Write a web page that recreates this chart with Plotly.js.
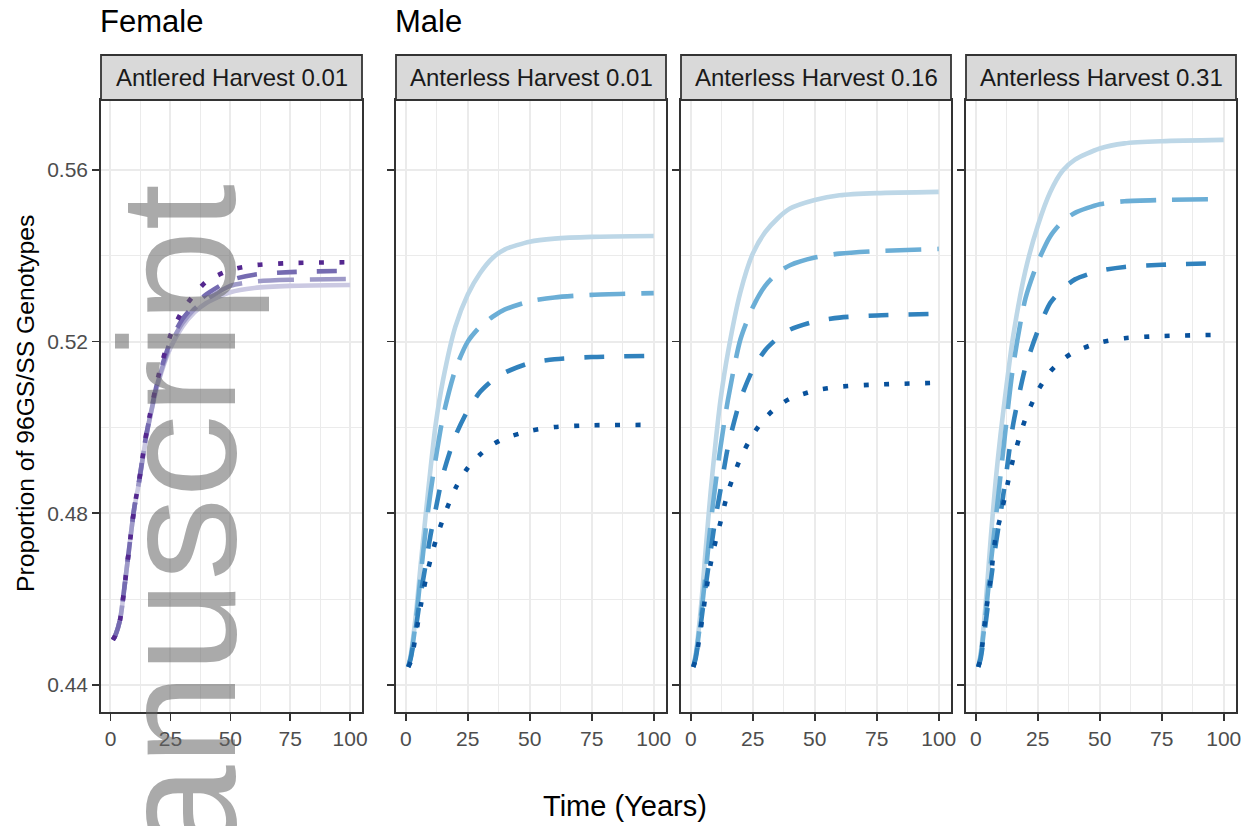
<!DOCTYPE html>
<html>
<head>
<meta charset="utf-8">
<script src="https://cdn.plot.ly/plotly-3.0.1.min.js"></script>
<style>html,body{margin:0;padding:0;background:#fff;}#chart{width:1250px;height:826px;}</style>
</head>
<body>
<div id="chart"></div>
<script>
// ---------------- data ----------------
const years = [1, 2, 4, 6, 8, 10, 12, 15, 20, 25, 30, 35, 40, 50, 60, 75, 100];

const panelTitles = ["Antlered Harvest 0.01", "Anterless Harvest 0.01", "Anterless Harvest 0.16", "Anterless Harvest 0.31"];
const groupTitles = ["Female", "Male"];
const xTickVals = [0, 25, 50, 75, 100];
const yTickVals = [0.44, 0.48, 0.52, 0.56];
const yTickText = ["0.44", "0.48", "0.52", "0.56"];
const xTitle = "Time (Years)";
const yTitle = "Proportion of 96GS/SS Genotypes";
const watermark = "manuscript";

// Female, Antlered Harvest 0.01
const femSolid    = [0.4505,0.4515,0.4552,0.4636,0.4728,0.4813,0.4874,0.4980,0.5105,0.5185,0.5235,0.5268,0.5290,0.5315,0.5325,0.5330,0.5332];
const femLongdash = [0.4505,0.4515,0.4552,0.4636,0.4728,0.4815,0.4876,0.4983,0.5110,0.5192,0.5243,0.5276,0.5298,0.5330,0.5340,0.5344,0.5346];
const femDash     = [0.4505,0.4515,0.4552,0.4636,0.4728,0.4815,0.4878,0.4985,0.5115,0.5200,0.5252,0.5285,0.5310,0.5343,0.5356,0.5362,0.5365];
const femDotted   = [0.4505,0.4515,0.4552,0.4636,0.4728,0.4815,0.4878,0.4988,0.5120,0.5214,0.5272,0.5310,0.5340,0.5367,0.5378,0.5383,0.5385];

// Male, Anterless Harvest 0.01
const m01Solid    = [0.4442,0.4470,0.4560,0.4680,0.4795,0.4905,0.5005,0.5110,0.5235,0.5310,0.5360,0.5395,0.5415,0.5433,0.5440,0.5444,0.5446];
const m01Longdash = [0.4442,0.4465,0.4545,0.4655,0.4760,0.4850,0.4925,0.5025,0.5135,0.5200,0.5235,0.5258,0.5275,0.5294,0.5303,0.5309,0.5313];
const m01Dash     = [0.4442,0.4462,0.4530,0.4610,0.4680,0.4750,0.4808,0.4890,0.4980,0.5040,0.5083,0.5110,0.5128,0.5150,0.5159,0.5164,0.5167];
const m01Dotted   = [0.4442,0.4455,0.4515,0.4584,0.4645,0.4693,0.4735,0.4787,0.4858,0.4906,0.4937,0.4960,0.4975,0.4992,0.5001,0.5005,0.5006];

// Male, Anterless Harvest 0.16
const m16Solid    = [0.4442,0.4472,0.4575,0.4715,0.4850,0.4965,0.5065,0.5175,0.5315,0.5405,0.5455,0.5487,0.5510,0.5530,0.5541,0.5546,0.5549];
const m16Longdash = [0.4442,0.4467,0.4555,0.4660,0.4775,0.4870,0.4955,0.5065,0.5205,0.5280,0.5330,0.5360,0.5378,0.5396,0.5405,0.5411,0.5416];
const m16Dash     = [0.4442,0.4463,0.4540,0.4630,0.4712,0.4790,0.4855,0.4955,0.5065,0.5135,0.5180,0.5208,0.5228,0.5247,0.5256,0.5261,0.5265];
const m16Dotted   = [0.4442,0.4460,0.4530,0.4612,0.4682,0.4735,0.4780,0.4850,0.4928,0.4983,0.5022,0.5049,0.5067,0.5086,0.5095,0.5100,0.5104];

// Male, Anterless Harvest 0.31
const m31Solid    = [0.4442,0.4475,0.4590,0.4740,0.4875,0.4985,0.5080,0.5210,0.5365,0.5470,0.5548,0.5598,0.5624,0.5650,0.5662,0.5667,0.5670];
const m31Longdash = [0.4442,0.4468,0.4565,0.4680,0.4785,0.4890,0.4995,0.5140,0.5300,0.5385,0.5445,0.5480,0.5500,0.5520,0.5527,0.5530,0.5532];
const m31Dash     = [0.4442,0.4463,0.4545,0.4640,0.4725,0.4800,0.4880,0.5005,0.5140,0.5225,0.5290,0.5323,0.5345,0.5365,0.5374,0.5379,0.5383];
const m31Dotted   = [0.4442,0.4465,0.4565,0.4650,0.4745,0.4793,0.4846,0.4925,0.5020,0.5085,0.5130,0.5158,0.5177,0.5198,0.5208,0.5213,0.5216];

// ---------------- styles ----------------
const FONT = "Liberation Sans, Arial, Helvetica, sans-serif";
const dashes = ["solid", "36px,16px", "20px,20px", "5px,15.5px"];
const purples = ["#cbc9e2", "#9e9ac8", "#756bb1", "#54278f"];
const blues = ["#bdd7e7", "#6baed6", "#3182bd", "#08519c"];
const W = 1250, H = 826;
const xDomPx = [[101, 362], [396, 666], [681, 951], [966, 1236]];
const plotTopPx = 100, plotBotPx = 712, stripTopPx = 55;

const panels = [
  {series: [femSolid, femLongdash, femDash, femDotted], colors: purples},
  {series: [m01Solid, m01Longdash, m01Dash, m01Dotted], colors: blues},
  {series: [m16Solid, m16Longdash, m16Dash, m16Dotted], colors: blues},
  {series: [m31Solid, m31Longdash, m31Dash, m31Dotted], colors: blues}
];

const traces = [];
panels.forEach((p, i) => {
  const sfx = i === 0 ? "" : String(i + 1);
  p.series.forEach((vals, j) => {
    traces.push({
      type: "scatter", mode: "lines", x: years, y: vals,
      xaxis: "x" + sfx, yaxis: "y" + sfx,
      line: {color: p.colors[j], width: 4.6, dash: dashes[j], shape: "spline", smoothing: 0.7},
      hoverinfo: "skip", showlegend: false
    });
  });
});

const yDom = [(H - plotBotPx) / H, (H - plotTopPx) / H];
const layout = {
  width: W, height: H,
  margin: {l: 0, r: 0, t: 0, b: 0},
  paper_bgcolor: "#ffffff", plot_bgcolor: "#ffffff",
  font: {family: FONT, color: "#4d4d4d"},
  showlegend: false,
  shapes: [], annotations: []
};

xDomPx.forEach((d, i) => {
  const sfx = i === 0 ? "" : String(i + 1);
  layout["xaxis" + sfx] = {
    domain: [d[0] / W, d[1] / W], anchor: "y" + sfx,
    range: [-3.95, 104.95], tickmode: "array", tickvals: xTickVals,
    ticks: "outside", ticklen: 7, tickwidth: 1.6, tickcolor: "#333333",
    tickfont: {size: 21, color: "#4d4d4d", family: FONT},
    showgrid: true, gridcolor: "#ebebeb", gridwidth: 2,
    minor: {tick0: 0, dtick: 12.5, showgrid: true, gridcolor: "#ebebeb", gridwidth: 1.1, ticks: ""},
    showline: true, mirror: true, linecolor: "#333333", linewidth: 1.8,
    zeroline: false, fixedrange: true
  };
  layout["yaxis" + sfx] = {
    domain: yDom, anchor: "x" + sfx,
    range: [0.4337, 0.5763], tickmode: "array", tickvals: yTickVals, ticktext: yTickText,
    showticklabels: i === 0,
    ticks: "outside", ticklen: 7, tickwidth: 1.6, tickcolor: "#333333",
    tickfont: {size: 21, color: "#4d4d4d", family: FONT},
    showgrid: true, gridcolor: "#ebebeb", gridwidth: 2,
    minor: {tick0: 0.44, dtick: 0.02, showgrid: true, gridcolor: "#ebebeb", gridwidth: 1.1, ticks: ""},
    showline: true, mirror: true, linecolor: "#333333", linewidth: 1.8,
    zeroline: false, fixedrange: true
  };
  // strip
  layout.shapes.push({
    type: "rect", xref: "paper", yref: "paper",
    x0: d[0] / W, x1: d[1] / W, y0: (H - plotTopPx) / H, y1: (H - stripTopPx) / H,
    fillcolor: "#d9d9d9", line: {color: "#333333", width: 1.8}, layer: "above"
  });
  layout.annotations.push({
    xref: "paper", yref: "paper", x: (d[0] + d[1]) / 2 / W, y: (H - (plotTopPx + stripTopPx) / 2) / H,
    xanchor: "center", yanchor: "middle", showarrow: false,
    text: panelTitles[i], font: {size: 24, color: "#1a1a1a", family: FONT}
  });
});

// group titles
layout.annotations.push({
  xref: "paper", yref: "paper", x: 98 / W, y: (H - 22) / H, xanchor: "left", yanchor: "middle",
  showarrow: false, text: groupTitles[0], font: {size: 31, color: "#000000", family: FONT}
});
layout.annotations.push({
  xref: "paper", yref: "paper", x: 393 / W, y: (H - 22) / H, xanchor: "left", yanchor: "middle",
  showarrow: false, text: groupTitles[1], font: {size: 31, color: "#000000", family: FONT}
});
// axis titles
layout.annotations.push({
  xref: "paper", yref: "paper", x: 625 / W, y: (H - 806) / H, xanchor: "center", yanchor: "middle",
  showarrow: false, text: xTitle, font: {size: 29, color: "#000000", family: FONT}
});
layout.annotations.push({
  xref: "paper", yref: "paper", x: 25 / W, y: (H - 404) / H, xanchor: "center", yanchor: "middle",
  showarrow: false, textangle: -90, text: yTitle, font: {size: 24.7, color: "#000000", family: FONT}
});
// watermark
layout.annotations.push({
  xref: "paper", yref: "paper", x: 177 / W, y: (H - 590) / H, xanchor: "center", yanchor: "middle",
  showarrow: false, textangle: -90, text: watermark,
  font: {size: 166, color: "rgba(100,100,100,0.55)", family: FONT}
});

Plotly.newPlot("chart", traces, layout, {staticPlot: true, displayModeBar: false});
</script>
</body>
</html>
